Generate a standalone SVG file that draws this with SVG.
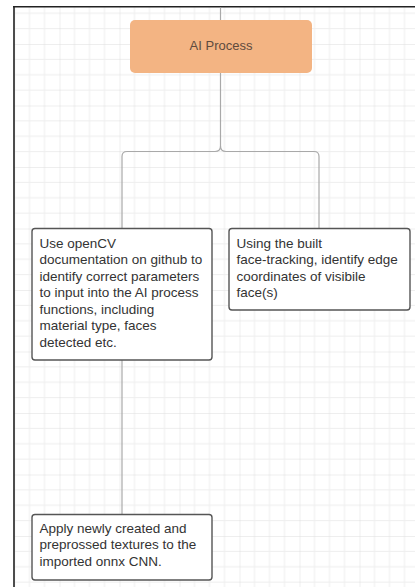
<svg xmlns="http://www.w3.org/2000/svg" width="415" height="587" viewBox="0 0 415 587">
<defs>
<pattern id="grid" patternUnits="userSpaceOnUse" x="-0.5" y="-17.5" width="60" height="61.5">
<path d="M15 0V61.5M30 0V61.5M45 0V61.5M0 15.375H60M0 30.75H60M0 46.125H60" stroke="#eeeeee" stroke-width="1" fill="none"/>
<path d="M0 0V61.5M0 0H60" stroke="#dddddd" stroke-width="1" fill="none"/>
</pattern>
<style>
.box{fill:#ffffff;stroke:#555555;stroke-width:1.4}
.txt{font-family:"Liberation Sans",Arial,sans-serif;font-size:13.5px;fill:#333333}
.conn{fill:none;stroke:#a9a9a9;stroke-width:1.2}
</style>
</defs>
<rect x="0" y="0" width="415" height="587" fill="#ffffff"/>
<rect x="14" y="7" width="401" height="580" fill="url(#grid)"/>
<path d="M13 6.7H415M14 6V587" stroke="#222222" stroke-width="1.6" fill="none"/>
<g id="connectors">
<path class="conn" d="M220.5 7.5V20"/>
<path class="conn" d="M220.5 73V146Q220.5 151.5 215 151.5H127Q122 151.5 122 156.5V228"/>
<path class="conn" d="M220.5 146Q220.5 151.5 226 151.5H314Q319 151.5 319 156.5V228"/>
<path class="conn" d="M122 360V514"/>
</g>
<g id="ai-process">
<rect x="130" y="20" width="182" height="53" rx="5" fill="#f3b483"/>
<text x="221" y="50" text-anchor="middle" font-family="Liberation Sans, Arial, sans-serif" font-size="13" fill="#5e4b3e">AI Process</text>
</g>
<g id="opencv-doc">
<rect class="box" x="32" y="228.5" width="180" height="131.5" rx="3"/>
<text class="txt"><tspan x="39.5" y="247.5">Use openCV</tspan><tspan x="39.5" y="264">documentation on github to</tspan><tspan x="39.5" y="280.5">identify correct parameters</tspan><tspan x="39.5" y="297">to input into the AI process</tspan><tspan x="39.5" y="313.5">functions, including</tspan><tspan x="39.5" y="330">material type, faces</tspan><tspan x="39.5" y="346.5">detected etc.</tspan></text>
</g>
<g id="face-tracking">
<rect class="box" x="229" y="228.5" width="181" height="81.5" rx="3"/>
<text class="txt"><tspan x="236.5" y="247.5">Using the built</tspan><tspan x="236.5" y="264">face-tracking, identify edge</tspan><tspan x="236.5" y="280.5">coordinates of visibile</tspan><tspan x="236.5" y="297">face(s)</tspan></text>
</g>
<g id="apply-textures">
<rect class="box" x="32" y="514.5" width="180" height="65.5" rx="3"/>
<text class="txt"><tspan x="39.5" y="532.5">Apply newly created and</tspan><tspan x="39.5" y="549">preprossed textures to the</tspan><tspan x="39.5" y="565.5">imported onnx CNN.</tspan></text>
</g>
</svg>
